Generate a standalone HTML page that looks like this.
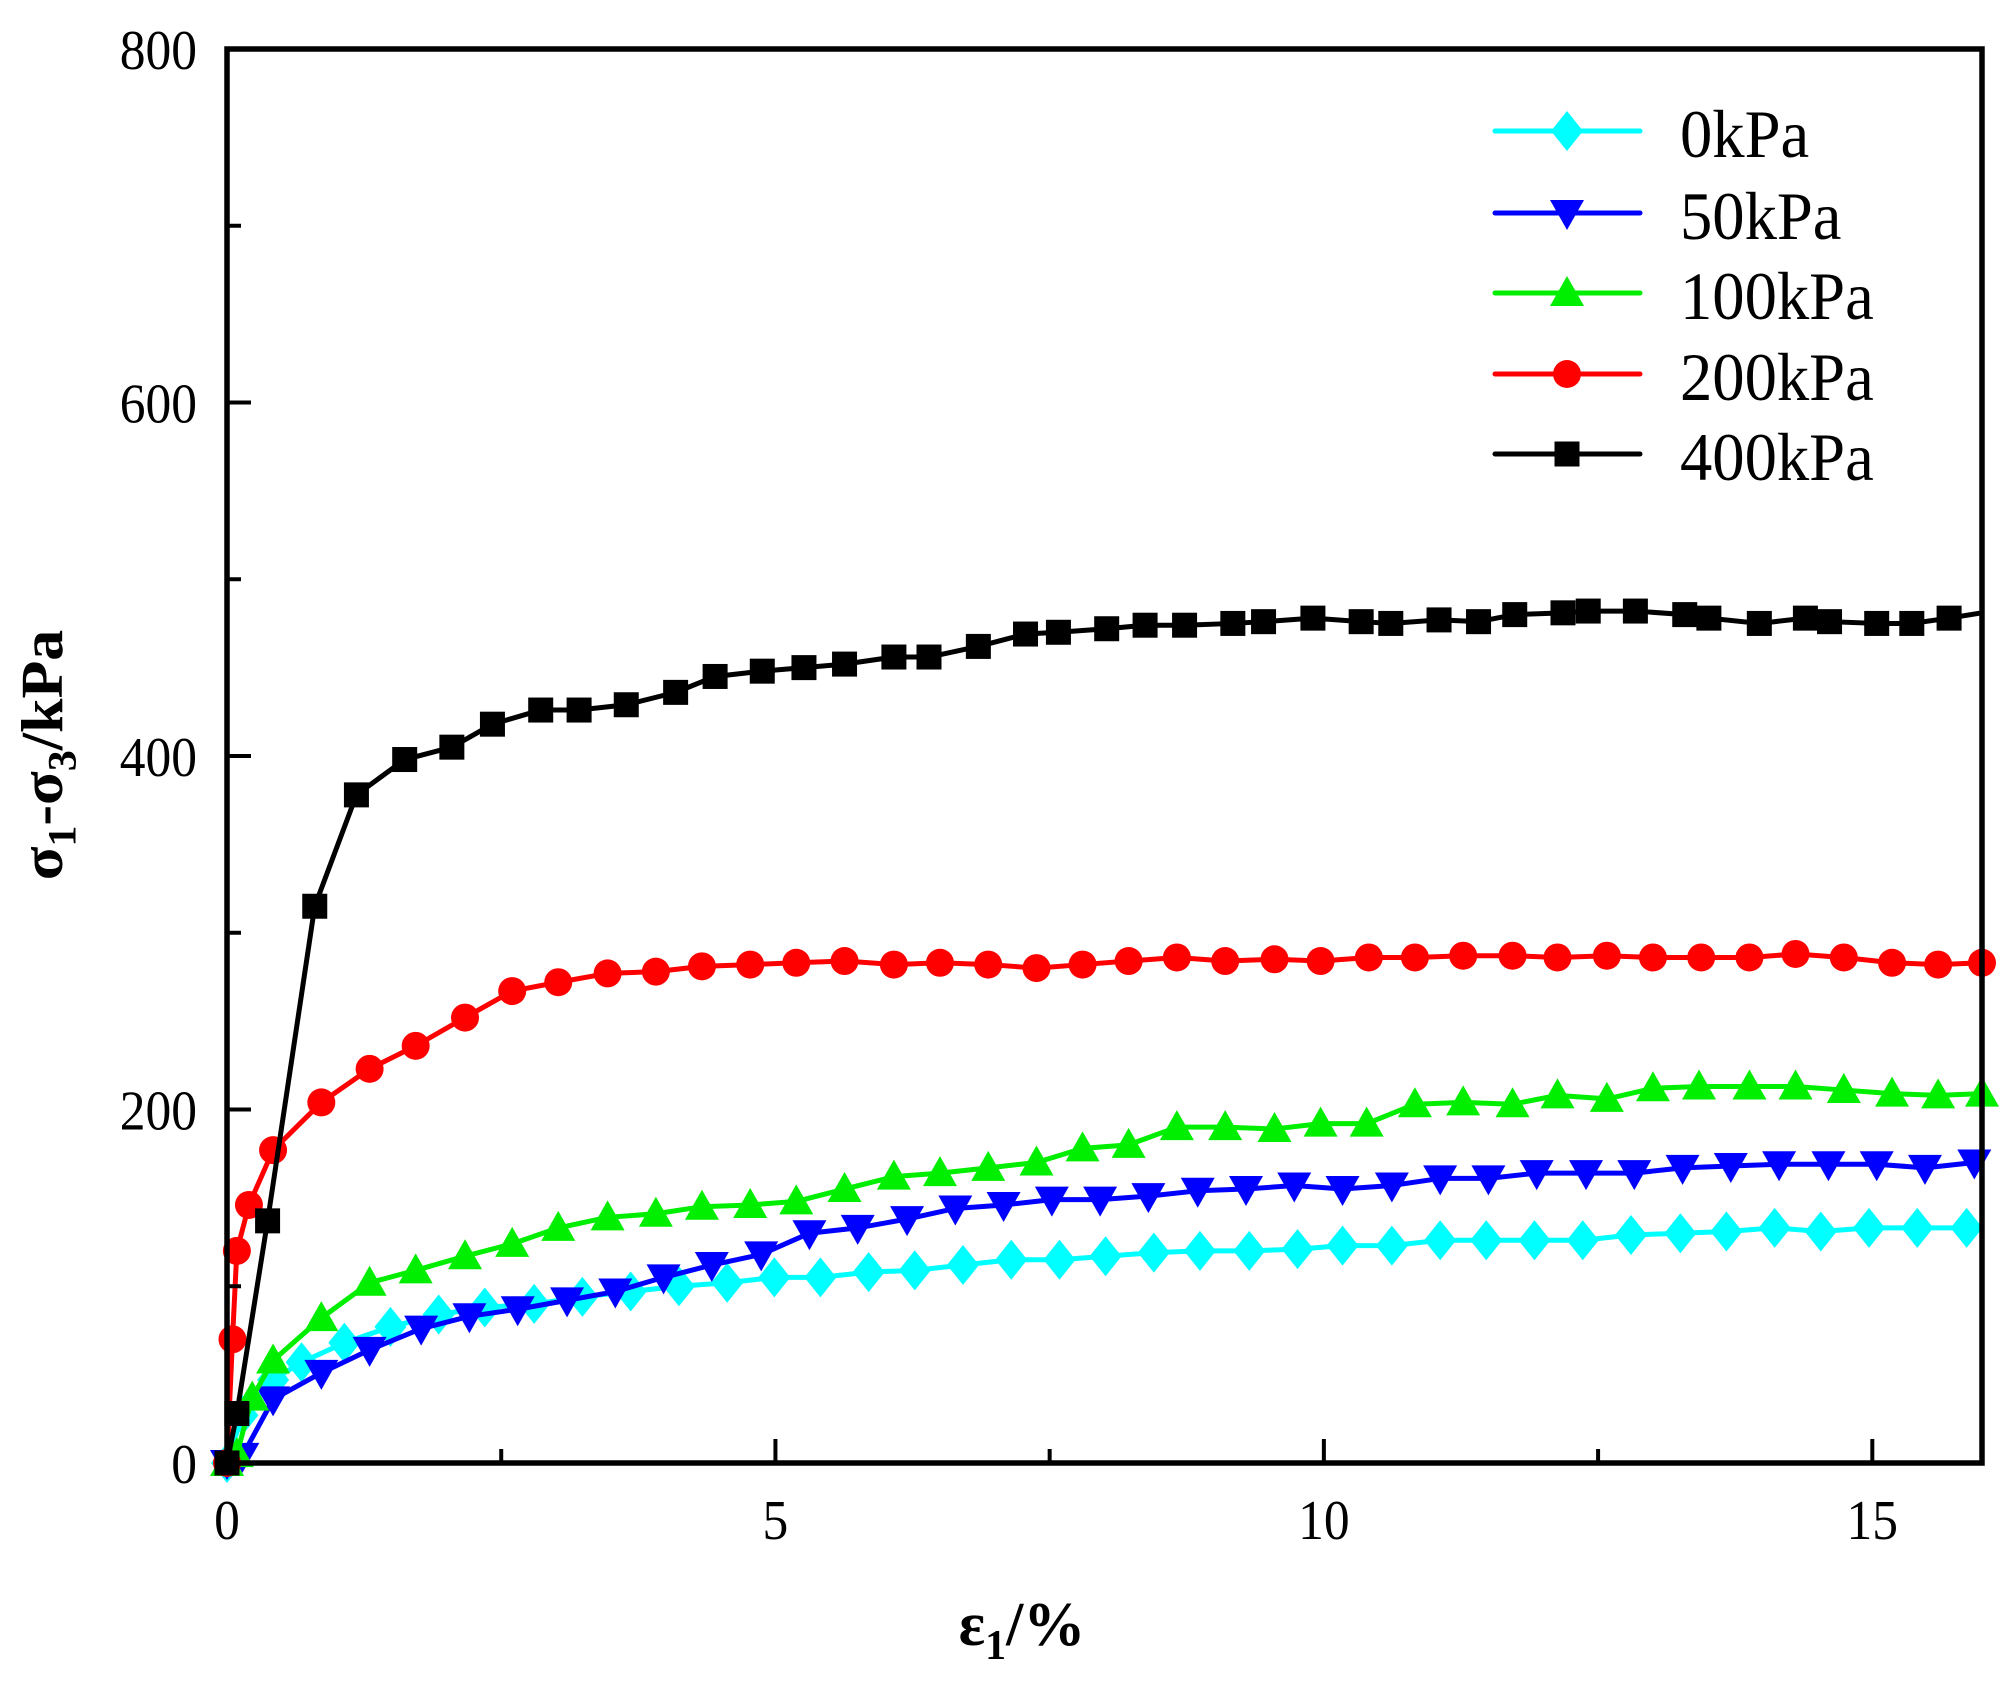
<!DOCTYPE html>
<html><head><meta charset="utf-8"><style>
html,body{margin:0;padding:0;background:#fff}
svg{display:block}
text{font-family:"Liberation Serif",serif;fill:#000}
</style></head><body>
<svg id="chart" width="2000" height="1682" viewBox="0 0 2000 1682" xmlns="http://www.w3.org/2000/svg">
<g id="plot"></g>
<g id="axes"></g>
<g id="legend"></g>
<text transform="translate(62,755) rotate(-90) scale(1,0.95)" text-anchor="middle" font-size="62" font-weight="bold">σ<tspan font-size="42" dy="14">1</tspan><tspan dy="-14">-σ</tspan><tspan font-size="42" dy="14">3</tspan><tspan dy="-14">/kPa</tspan></text>
<text x="1022" y="1645" text-anchor="middle" font-size="62" font-weight="bold">ε<tspan font-size="42" dy="14">1</tspan><tspan dy="-14">/%</tspan></text>
</svg>
<script>
const xTicks=[0,5,10,15];
const yTicks=[0,200,400,600,800];
const seriesNames=["0kPa","50kPa","100kPa","200kPa","400kPa"];
const x0=[0,.14,.42,.68,1.07,1.49,1.93,2.35,2.8,3.24,3.68,4.12,4.56,4.99,5.41,5.85,6.27,6.71,7.15,7.59,8.01,8.45,8.87,9.32,9.76,10.17,10.62,11.06,11.48,11.92,12.36,12.8,13.25,13.67,14.11,14.53,14.97,15.41,15.86];
const y0=[0,27,47,57,68,77,84,88,90,94,97,100,102,105,105,108,109,112,115,115,117,119,120,120,121,123,123,126,126,126,126,129,130,131,133,131,133,133,133];
const x50=[0,.14,.42,.86,1.3,1.77,2.21,2.65,3.1,3.54,3.98,4.42,4.87,5.31,5.75,6.2,6.64,7.08,7.52,7.96,8.4,8.85,9.29,9.73,10.17,10.62,11.06,11.5,11.94,12.39,12.83,13.27,13.71,14.15,14.6,15.04,15.48,15.93];
const y50=[0,4,36,51,64,76,83,87,92,97,105,112,118,130,133,138,144,146,149,149,151,154,155,157,155,157,161,161,164,164,164,167,168,169,169,169,167,170];
const x100=[0,.09,.23,.42,.86,1.3,1.72,2.17,2.6,3.02,3.47,3.91,4.33,4.77,5.19,5.63,6.08,6.5,6.94,7.38,7.8,8.22,8.66,9.1,9.55,9.97,10.39,10.83,11.27,11.72,12.13,12.58,13,13.42,13.88,14.3,14.74,15.18,15.6,16];
const y100=[0,5,37,58,82,102,109,117,124,133,139,141,145,146,148,155,162,164,167,170,178,180,190,190,189,192,192,203,204,203,208,206,212,213,213,213,211,209,208,209];
const x200=[0,.05,.09,.2,.42,.86,1.3,1.72,2.17,2.6,3.02,3.47,3.91,4.33,4.77,5.19,5.63,6.08,6.5,6.94,7.38,7.8,8.22,8.66,9.1,9.55,9.97,10.41,10.83,11.27,11.72,12.13,12.58,13,13.44,13.88,14.3,14.74,15.18,15.6,16];
const y200=[0,70,120,146,177,204,223,236,252,267,272,277,278,281,282,283,284,282,283,282,280,282,284,286,284,285,284,286,286,287,287,286,287,286,286,286,288,286,283,282,283];
const x400=[0,.09,.37,.8,1.18,1.62,2.05,2.42,2.86,3.21,3.64,4.09,4.45,4.88,5.26,5.63,6.08,6.4,6.85,7.28,7.58,8.02,8.37,8.73,9.17,9.45,9.9,10.34,10.61,11.05,11.41,11.74,12.18,12.41,12.84,13.29,13.51,13.97,14.39,14.61,15.04,15.36,15.7];
const y400=[0,28,137,315,378,398,405,418,426,426,429,436,445,448,450,452,456,456,462,469,470,472,474,474,475,476,478,476,475,477,476,480,481,482,482,480,478,475,478,476,475,475,478];

const NS="http://www.w3.org/2000/svg";
const L=227,R=1982,T=49,B=1463,XMAX=16,YMAX=800;
const sx=v=>L+v/XMAX*(R-L);
const sy=v=>B-v/YMAX*(B-T);
function mk(tag,attrs,parent){const e=document.createElementNS(NS,tag);for(const k in attrs)e.setAttribute(k,attrs[k]);parent.appendChild(e);return e;}
const plot=document.getElementById('plot'),axes=document.getElementById('axes'),legend=document.getElementById('legend');

function marker(type,cx,cy,color,parent){
  let e;
  if(type==='diamond') e=mk('polygon',{points:`${cx},${cy-20} ${cx+16},${cy} ${cx},${cy+20} ${cx-16},${cy}`,fill:color},parent);
  else if(type==='down') e=mk('polygon',{points:`${cx-17},${cy-13} ${cx+17},${cy-13} ${cx},${cy+17}`,fill:color},parent);
  else if(type==='up') e=mk('polygon',{points:`${cx-17},${cy+13} ${cx+17},${cy+13} ${cx},${cy-17}`,fill:color},parent);
  else if(type==='circle') e=mk('circle',{cx:cx,cy:cy,r:14,fill:color},parent);
  else e=mk('rect',{x:cx-12.5,y:cy-12.5,width:25,height:25,fill:color},parent);
  return e;
}
const series=[
  {xs:x0,ys:y0,color:'#00FFFF',m:'diamond'},
  {xs:x50,ys:y50,color:'#0000FF',m:'down'},
  {xs:x100,ys:y100,color:'#00EE00',m:'up'},
  {xs:x200,ys:y200,color:'#FF0000',m:'circle'},
  {xs:x400,ys:y400,color:'#000000',m:'square'}
];
const lastX=[16,16,16,16,16];
const lastY=[133,170,209,283,481];
series.forEach((s,i)=>{
  const g=mk('g',{},plot);
  
  
  const pts=s.xs.map((x,j)=>sx(x)+','+sy(s.ys[j]));
  pts.push(sx(lastX[i])+','+sy(lastY[i]));
  const ln=mk('polyline',{points:pts.join(' '),fill:'none',stroke:s.color,'stroke-width':5,'stroke-linejoin':'round'},g);
  
  
  s.xs.forEach((x,j)=>{
    const mm=marker(s.m,sx(x),sy(s.ys[j]),s.color,g);
    
    
  });
});
mk('rect',{x:L,y:T,width:R-L,height:B-T,fill:'none',stroke:'#000','stroke-width':5.5},axes);
for(let v=0;v<=XMAX;v+=2.5){
  const major=v%5===0;
  mk('line',{x1:sx(v),x2:sx(v),y1:B,y2:B-(major?24:14),stroke:'#000','stroke-width':4},axes);
}
xTicks.forEach(v=>{
  const t=mk('text',{x:sx(v),y:B+76,'text-anchor':'middle','font-size':56,transform:`translate(${sx(v)},0) scale(0.92,1) translate(${-sx(v)},0)`},axes);
  t.textContent=v;
  
  
});
for(let v=0;v<=YMAX;v+=100){
  const major=v%200===0;
  mk('line',{x1:L,x2:L+(major?24:14),y1:sy(v),y2:sy(v),stroke:'#000','stroke-width':4},axes);
}
yTicks.forEach(v=>{
  const t=mk('text',{x:L-30,y:sy(v)+20,'text-anchor':'end','font-size':56,transform:`translate(${L-30},0) scale(0.92,1) translate(${-(L-30)},0)`},axes);
  t.textContent=v;
  
  
});
const ly=[131,213,293,374,454];
series.forEach((s,i)=>{
  const g=mk('g',{},legend);
  
  
  mk('line',{x1:1495,x2:1640,y1:ly[i],y2:ly[i],stroke:s.color,'stroke-width':5,'stroke-linecap':'round'},g);
  marker(s.m,1567,ly[i],s.color,g);
  const t=mk('text',{x:1680,y:ly[i]+26,'font-size':68,transform:'translate(1680,0) scale(0.95,1) translate(-1680,0)'},g);
  t.textContent=seriesNames[i];
});
</script>
</body></html>
